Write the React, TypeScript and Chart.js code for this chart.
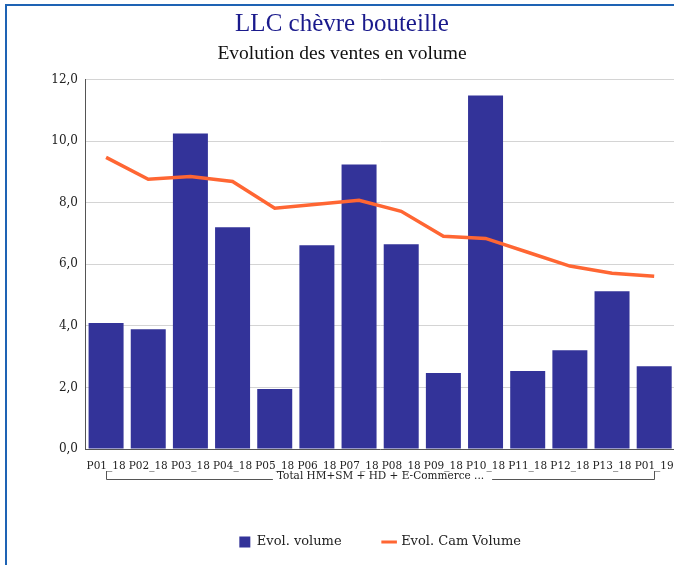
import React, { useEffect, useRef } from "react";
import { Chart, registerables } from "chart.js";

Chart.register(...registerables);

const TITLE = "LLC chèvre bouteille";
const SUBTITLE = "Evolution des ventes en volume";
const CATEGORIES = [
  "P01_18", "P02_18", "P03_18", "P04_18", "P05_18", "P06_18", "P07_18",
  "P08_18", "P09_18", "P10_18", "P11_18", "P12_18", "P13_18", "P01_19",
];
const GROUP_LABEL = "Total HM+SM + HD + E-Commerce ...";
const SERIES_BAR = "Evol. volume";
const SERIES_LINE = "Evol. Cam Volume";
const VOLUME = [4.09, 3.89, 10.25, 7.2, 1.95, 6.62, 9.24, 6.65, 2.47, 11.48, 2.53, 3.21, 5.12, 2.69];
const CAM_VOLUME = [9.47, 8.76, 8.85, 8.69, 7.82, 7.95, 8.08, 7.72, 6.91, 6.84, 6.39, 5.94, 5.71, 5.61];
const Y_MIN = 0;
const Y_MAX = 12;
const Y_STEP = 2;

const BAR_COLOR = "#333399";
const LINE_COLOR = "#FF6633";

const groupBracket = {
  id: "groupBracket",
  afterDraw(chart: any) {
    const xs = chart.scales.x;
    const ctx = chart.ctx;
    const x0 = Math.round(xs.getPixelForValue(0)) + 0.5;
    const x1 = Math.round(xs.getPixelForValue(CATEGORIES.length - 1)) + 0.5;
    const b = chart.chartArea.bottom;
    const yTop = b + 22;
    const yLine = Math.round(b + 30) + 0.5;
    const yText = b + 27;
    ctx.save();
    ctx.font = "10.5px 'DejaVu Serif'";
    const tw = ctx.measureText(GROUP_LABEL).width;
    const cx = (x0 + x1) / 2;
    ctx.strokeStyle = "#555555";
    ctx.lineWidth = 1;
    ctx.beginPath();
    ctx.moveTo(x0, yTop);
    ctx.lineTo(x0, yLine);
    ctx.lineTo(cx - tw / 2 - 4, yLine);
    ctx.moveTo(cx + tw / 2 + 8, yLine);
    ctx.lineTo(x1, yLine);
    ctx.lineTo(x1, yTop);
    ctx.stroke();
    ctx.fillStyle = "#222222";
    ctx.textAlign = "center";
    ctx.textBaseline = "middle";
    ctx.fillText(GROUP_LABEL, cx, yText);
    ctx.restore();
  },
};

export default function App() {
  const ref = useRef<HTMLCanvasElement | null>(null);

  useEffect(() => {
    if (!ref.current) return;
    const chart = new Chart(ref.current, {
      type: "bar",
      data: {
        labels: CATEGORIES,
        datasets: [
          {
            type: "line",
            label: SERIES_LINE,
            data: CAM_VOLUME,
            borderColor: LINE_COLOR,
            backgroundColor: LINE_COLOR,
            borderWidth: 3.5,
            pointRadius: 0,
            pointHoverRadius: 0,
            pointBorderWidth: 3,
            pointStyle: "line",
            tension: 0,
            order: 0,
          } as any,
          {
            type: "bar",
            label: SERIES_BAR,
            data: VOLUME,
            backgroundColor: BAR_COLOR,
            borderWidth: 0,
            pointStyle: "rect",
            categoryPercentage: 1,
            barPercentage: 0.83,
            order: 1,
          } as any,
        ],
      },
      options: {
        responsive: false,
        animation: false,
        layout: { padding: { left: 0, right: 8, top: 0, bottom: 21.5 } },
        plugins: {
          title: {
            display: true,
            text: TITLE,
            color: "#1a1a8c",
            font: { family: "'Liberation Serif'", size: 25, weight: "normal" },
            padding: { top: 3, bottom: 0 },
          },
          subtitle: {
            display: true,
            text: SUBTITLE,
            color: "#111111",
            font: { family: "'Liberation Serif'", size: 19.5, weight: "normal" },
            padding: { top: 2.8, bottom: 14.3 },
          },
          legend: {
            position: "bottom",
            fullSize: false,
            reverse: true,
            labels: {
              usePointStyle: true,
              boxWidth: 11,
              boxHeight: 11,
              padding: 42,
              color: "#222222",
              font: { family: "'DejaVu Serif'", size: 13 },
            },
          },
          tooltip: { enabled: false },
        },
        scales: {
          x: {
            grid: { display: false, drawTicks: false },
            border: { display: true, color: "#555555", width: 1 },
            ticks: {
              autoSkip: false,
              maxRotation: 0,
              minRotation: 0,
              padding: 11,
              color: "#222222",
              font: { family: "'DejaVu Serif'", size: 10.5 },
            },
            afterFit: (s: any) => {
              s.height = 44.5;
            },
          },
          y: {
            min: Y_MIN,
            max: Y_MAX,
            grid: { color: "#d4d4d4", lineWidth: 1, drawTicks: false },
            border: { display: true, color: "#555555", width: 1 },
            ticks: {
              stepSize: Y_STEP,
              padding: 7,
              color: "#222222",
              font: { family: "'DejaVu Serif'", size: 12 },
              callback: (v: any) => Number(v).toFixed(1).replace(".", ","),
            },
            afterFit: (s: any) => {
              s.width = 78;
            },
          },
        },
      },
      plugins: [groupBracket],
    });
    return () => chart.destroy();
  }, []);

  return (
    <div style={{ position: "fixed", inset: 0, overflow: "hidden", background: "#ffffff" }}>
      <div
        style={{
          position: "absolute",
          left: 5,
          top: 4,
          border: "2px solid #1e63b4",
          width: 678,
          height: 574,
        }}
      >
        <canvas ref={ref} width={678} height={574} style={{ display: "block" }} />
      </div>
    </div>
  );
}
